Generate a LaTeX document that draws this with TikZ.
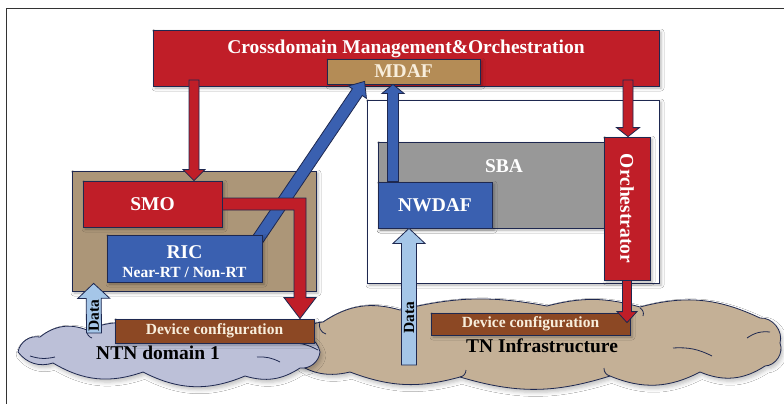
\documentclass[tikz,border=0pt]{standalone}
\usepackage{fontspec}
\setmainfont{Liberation Serif}
\usetikzlibrary{calc,shadows.blur}
\definecolor{cmred}{RGB}{192,30,40}
\definecolor{cmblue}{RGB}{58,96,176}
\definecolor{cmlight}{RGB}{165,198,232}
\definecolor{cmtan}{RGB}{172,150,120}
\definecolor{cmgold}{RGB}{180,140,86}
\definecolor{cmbrown}{RGB}{140,72,36}
\definecolor{cmgray}{RGB}{152,152,152}
\definecolor{cmline}{RGB}{30,40,80}
\definecolor{cmcream}{RGB}{248,238,220}
\definecolor{ntnfill}{RGB}{188,192,216}
\definecolor{tnfill}{RGB}{196,176,150}
\newcommand\bigfont{\fontsize{19.5}{21}\selectfont\bfseries}
\newcommand\smallfont{\fontsize{15.5}{17}\selectfont\bfseries}
\newcommand\blockarrow[6]{%
	\coordinate (ba-h) at ($(#3)!#6!(#2)$);
	\filldraw[#1] ($(#2)!#4!90:(#3)$) -- ($(ba-h)!#4!-90:(#2)$) -- ($(ba-h)!#5!-90:(#2)$) -- (#3) -- ($(ba-h)!#5!90:(#2)$) -- ($(ba-h)!#4!90:(#2)$) -- ($(#2)!#4!-90:(#3)$) -- cycle;}

\begin{document}
\begin{tikzpicture} [x=1pt,y=-1pt,
		box/.style={draw=cmline,line width=0.8pt,inner sep=0pt,text=white,font=\bigfont,blur shadow={shadow xshift=2pt,shadow yshift=-2pt,shadow blur radius=3pt,shadow opacity=30}},
		txt/.style={text=white,font=\bigfont,inner sep=0pt},
		arr/.style={draw=cmline,line width=0.8pt},
		puff/.style={draw=cmline,line width=0.8pt,blur shadow={shadow xshift=2pt,shadow yshift=-3pt,shadow blur radius=4pt,shadow opacity=25}},
		curl/.style={draw=cmline,line width=0.8pt}]
			\useasboundingbox (0,0) rectangle (784,404);
			\fill[white] (0,0) rectangle (784,404);
			\draw[black!80,line width=1pt] (784,9) -- (6,9) -- (6,404);
			
			\path[puff,fill=tnfill] (288,356) to[bend left=40] (323,322) to[bend left=25] (400,310) to[bend left=12] (547,306) to[bend left=15] (640,307) to[bend left=20] (760,318) to[bend left=55] (780,343) to[bend left=55] (765,366) to[bend left=28] (700,372) to[bend left=25] (610,376) to[bend left=17] (460,377) to[bend left=18] (350,372) to[bend left=28] cycle;
			\draw[curl] (320,322) to[bend right=50] (326,334);
			\draw[curl] (640,308) to[bend left=40] (643,316);
			\draw[curl] (673,348) to[bend left=15] (712,356);
			\draw[curl] (747,338) to[bend left=20] (770,332);
			\draw[curl] (610,376) to[bend left=40] (604,368);
			\draw[curl] (460,377) to[bend right=40] (466,370);
			
			\path[puff,fill=ntnfill] (18,352) to[bend left=45] (40,337) to[bend left=30] (87,330) to[bend left=20] (150,328) to[bend left=18] (230,330) to[bend left=20] (290,335) to[bend left=50] (320,352) to[bend left=45] (300,368) to[bend left=25] (245,376) to[bend left=25] (143,372) to[bend left=25] (53,363) to[bend left=35] cycle;
			\draw[curl] (30,356) to[bend right=15] (55,357);
			\draw[curl] (257,357) to[bend left=15] (280,362);
			\draw[curl] (288,343) to[bend left=15] (318,350);
			\draw[curl] (87,330) to[bend right=40] (92,338);
			
			\node[box,fill=white,minimum width=292pt,minimum height=183pt] (tnbox) at (513,191.5) {};
			\node[box,fill=cmgray,minimum width=226pt,minimum height=86pt] (sba) at (491,185) {};
			\node[txt] (sbalabel) at (504,166) {SBA};
			\node[box,fill=cmtan,minimum width=244pt,minimum height=120pt] (ntnbox) at (194,231) {};
			
			\node[box,fill=cmred,minimum width=506pt,minimum height=56pt] (cross) at (406,58) {};
			\node[txt] (crosslabel) at (406,49) {Crossdomain Management\&Orchestration};
			\node[box,fill=cmgold,text=cmcream,minimum width=153pt,minimum height=25pt] (mdaf) at (403.5,71.5) {MDAF};
			
			\coordinate (rs) at (258,239);
			\coordinate (re) at ($(mdaf.south west)+(38,-3)$);
			\blockarrow{arr,fill=cmblue}{rs}{re}{6pt}{11pt}{13pt}
			
			\node[box,fill=cmred,minimum width=139pt,minimum height=46pt] (smo) at (152.5,204) {SMO};
			\node[box,fill=cmblue,minimum width=155pt,minimum height=47pt] (ric) at (184.5,258.5) {};
			\node[txt,align=center] (riclabel) at ($(ric.center)+(0,3)$) {RIC\\[-2pt]{\smallfont Near-RT / Non-RT}};
			\node[box,fill=cmblue,minimum width=114pt,minimum height=46pt] (nwdaf) at (435,205) {NWDAF};
			\node[box,fill=cmred,minimum width=46pt,minimum height=143pt] (orch) at (627,208.5) {};
			\node[txt,rotate=-90] (orchlabel) at (orch.center) {Orchestrator};
			
			\node[box,fill=cmbrown,text=cmcream,font=\smallfont,minimum width=199pt,minimum height=24pt] (ntndev) at (214.5,331) {Device configuration};
			\node[box,fill=cmbrown,text=cmcream,font=\smallfont,minimum width=199pt,minimum height=22pt] (tndev) at (530.5,324) {Device configuration};
			\node[font=\bigfont,inner sep=0pt] (ntnlabel) at (158,353) {NTN domain 1};
			\node[font=\bigfont,inner sep=0pt] (tnlabel) at (542,346) {TN Infrastructure};
			
			\coordinate (c1) at (194,80);
			\coordinate (c1e) at (c1 |- smo.north);
			\blockarrow{arr,fill=cmred}{c1}{c1e}{5pt}{11pt}{11pt}
			\coordinate (c2) at (628,80);
			\coordinate (c2e) at (c2 |- orch.north);
			\blockarrow{arr,fill=cmred}{c2}{c2e}{5pt}{11.5pt}{9pt}
			\coordinate (o1e) at ($(orch.south |- tndev.north)+(0,10)$);
			\blockarrow{arr,fill=cmred}{orch.south}{o1e}{4.5pt}{10pt}{11pt}
			
			\coordinate (nw) at (393,0);
			\coordinate (nws) at (nw |- nwdaf.north);
			\coordinate (nwe) at (nw |- mdaf.south);
			\blockarrow{arr,fill=cmblue}{nws}{nwe}{5.5pt}{11pt}{9pt}
			
			\coordinate (bend) at (300,204);
			\coordinate (tip) at (bend |- ntndev.north);
			\filldraw[arr,fill=cmred] ($(smo.east)+(0,-6)$) -- ($(bend)+(6,-6)$) -- ($(tip)+(6,-21)$) -- ($(tip)+(16,-21)$) -- (tip) -- ($(tip)+(-16,-21)$) -- ($(tip)+(-6,-21)$) -- ($(bend)+(-6,6)$) -- ($(smo.east)+(0,6)$) -- cycle;
			
			\coordinate (d1s) at (94,333);
			\coordinate (d1e) at ($(ntnbox.south west)+(22,-8)$);
			\blockarrow{arr,fill=cmlight}{d1s}{d1e}{7.5pt}{16pt}{15pt}
			\node[font=\smallfont,rotate=90,inner sep=0pt] (data1) at (94,316) {Data};
			\coordinate (d2s) at (409,365);
			\coordinate (d2e) at (d2s |- nwdaf.south);
			\blockarrow{arr,fill=cmlight}{d2s}{d2e}{7.5pt}{16pt}{15pt}
			\node[font=\smallfont,rotate=90,inner sep=0pt] (data2) at (409,317.5) {Data};
			\end{tikzpicture}
\end{document}
